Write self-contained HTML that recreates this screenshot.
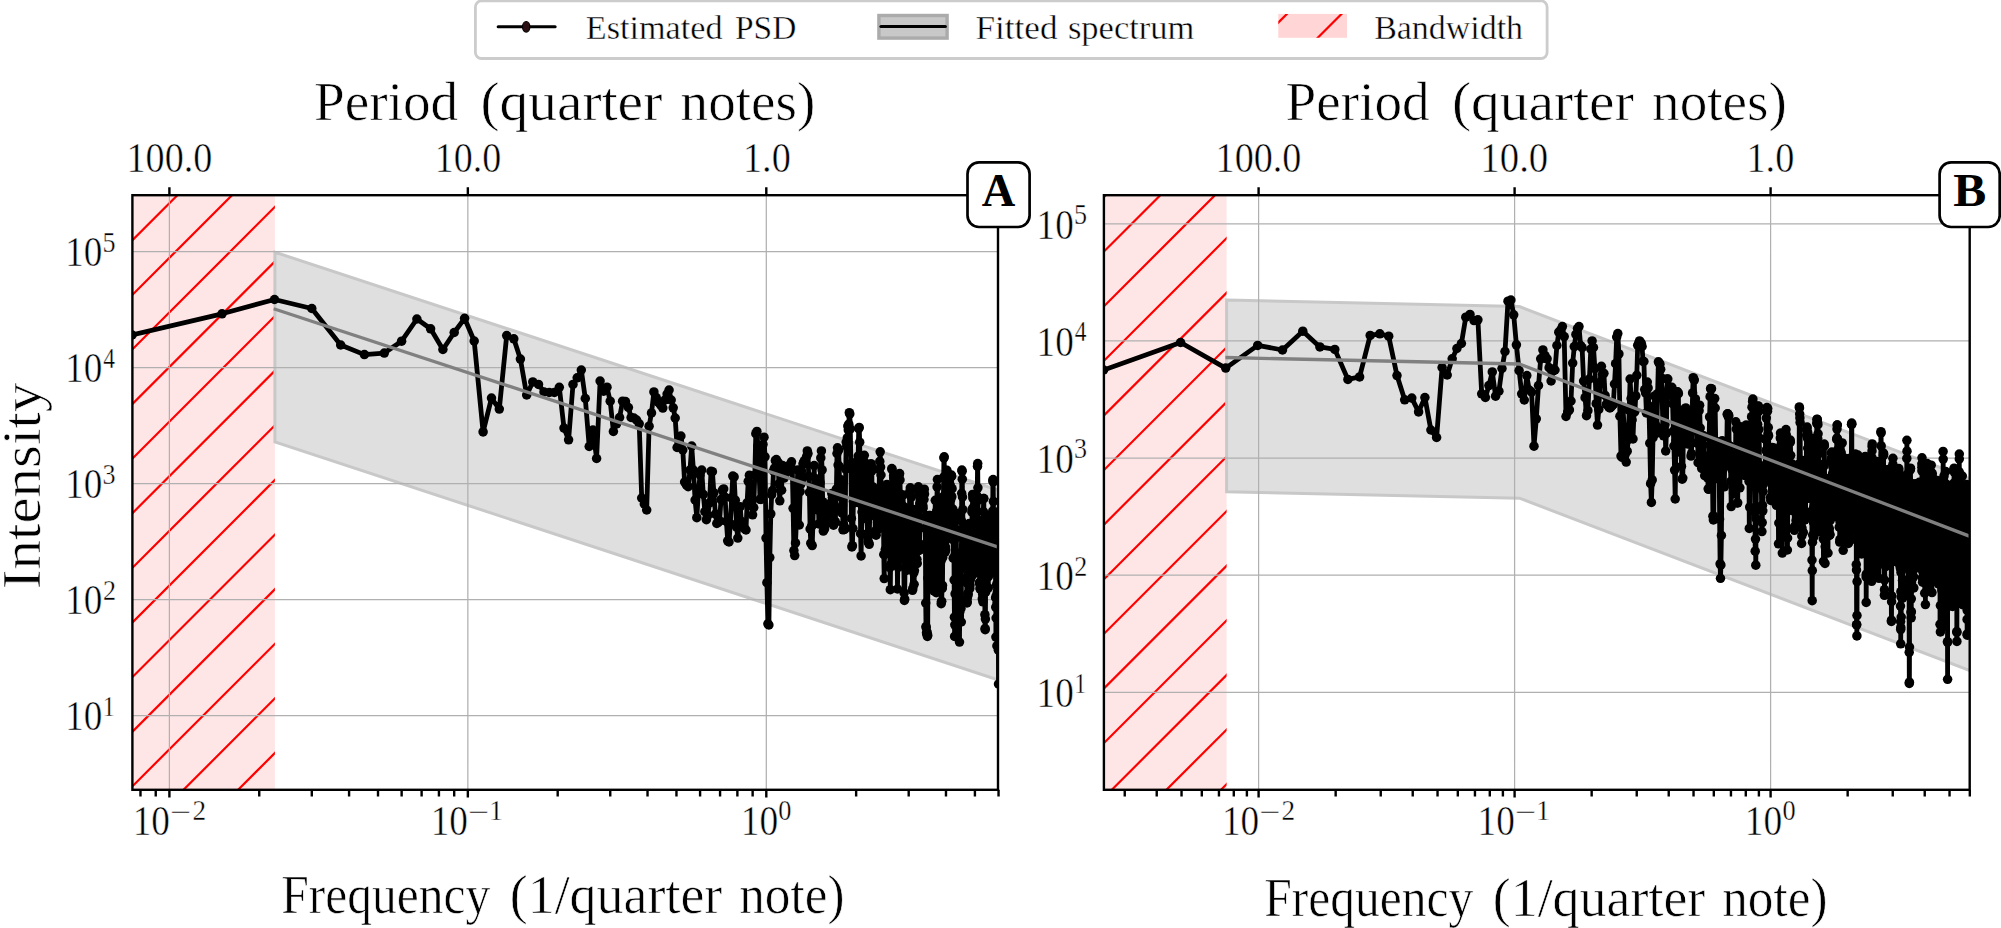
<!DOCTYPE html>
<html lang="en"><head><meta charset="utf-8"><title>Estimated PSD and fitted spectrum</title>
<style>html,body{margin:0;padding:0;background:#fff;overflow:hidden}svg{display:block}text{font-family:'Liberation Serif', serif;fill:#000;stroke:#fff;stroke-width:0;paint-order:fill stroke}</style></head><body>
<svg width="2001" height="928" viewBox="0 0 2001 928">
<rect width="2001" height="928" fill="#fff"/>
<defs>
<marker id="dot" markerUnits="userSpaceOnUse" markerWidth="12" markerHeight="12" refX="6" refY="6" viewBox="0 0 12 12"><circle cx="6" cy="6" r="4.75" fill="#000"/></marker>
<clipPath id="axL"><rect x="132.40" y="195.20" width="865.60" height="594.60"/></clipPath>
<clipPath id="pkL"><rect x="132.40" y="195.20" width="142.50" height="594.60"/></clipPath>
<clipPath id="axR"><rect x="1103.90" y="195.20" width="865.80" height="594.60"/></clipPath>
<clipPath id="pkR"><rect x="1103.90" y="195.20" width="122.70" height="594.60"/></clipPath>
<clipPath id="lgp"><rect x="1278.3" y="13.9" width="68.7" height="23.9"/></clipPath>
</defs>
<g clip-path="url(#axL)">
<rect x="132.40" y="195.20" width="142.50" height="594.60" fill="#ffe6e6"/>
<path clip-path="url(#pkL)" d="M-476.8 794.8L127.8 190.2M-422.2 794.8L182.4 190.2M-367.6 794.8L237.0 190.2M-313.0 794.8L291.6 190.2M-258.4 794.8L346.2 190.2M-203.8 794.8L400.8 190.2M-149.2 794.8L455.4 190.2M-94.6 794.8L510.0 190.2M-39.9 794.8L564.7 190.2M14.7 794.8L619.3 190.2M69.3 794.8L673.9 190.2M123.9 794.8L728.5 190.2M178.5 794.8L783.1 190.2M233.1 794.8L837.7 190.2M287.7 794.8L892.3 190.2" stroke="#f00" stroke-width="2.2" fill="none"/>
<polygon points="274.9,252.2 1001.0,491.1 1001.0,680.8 274.9,441.9" fill="#808080" fill-opacity="0.25"/>
<polygon points="274.9,252.2 1001.0,491.1 1001.0,680.8 274.9,441.9" fill="none" stroke="#c8c8c8" stroke-width="3.0" stroke-linejoin="miter"/>
<path d="M169.40 195.2V789.8M467.85 195.2V789.8M766.30 195.2V789.8M132.4 715.52H998.0M132.4 599.54H998.0M132.4 483.56H998.0M132.4 367.58H998.0M132.4 251.60H998.0" stroke="#b0b0b0" stroke-width="1.25" fill="none"/>
<path d="M132.1 335.0L222.0 313.8L274.5 299.5L311.8 308.5L340.7 345.0L364.4 354.6L384.3 353.1L401.6 341.2L416.9 319.0L430.6 328.8L442.9 349.5L454.2 332.5L464.6 318.3L474.2 341.0L483.1 431.9L491.5 398.1L499.3 409.1L506.7 335.6L513.8 338.8L520.4 359.1L526.7 395.0L532.8 381.9L538.5 384.4L544.0 391.9L549.3 392.5L554.4 392.5L559.3 387.3L564.0 428.1L568.6 439.8L573.0 384.4L577.2 377.8L581.3 370.0L585.3 398.5L589.2 446.5L592.9 430.0L596.6 458.5L600.1 381.0L603.6 391.2L607.0 387.2L610.2 401.2L613.4 431.5L616.6 423.8L619.6 417.5L622.6 401.2L625.5 401.5L628.4 407.5L631.1 417.5L633.9 418.0L636.6 420.0L639.2 423.8L641.7 498.0L644.3 504.0L646.7 510.0L649.1 426.2L651.5 412.9L653.9 391.9L656.2 397.5L658.4 402.5L660.6 405.0L662.8 408.1L664.9 400.0L667.1 394.0L669.1 390.0L671.2 400.0L673.2 407.8L675.2 418.0L677.1 447.5L679.0 440.0L680.9 436.0L682.8 450.0L684.6 482.0L686.4 485.0L688.2 486.7L690.0 470.0L691.7 446.0L693.4 470.0L695.1 500.0L696.8 517.7L698.5 490.0L700.1 475.0L701.7 470.0L703.3 494.4L704.9 511.7L706.4 519.7L707.9 515.3L709.5 502.9L711.0 471.3L712.4 471.7L713.9 492.8L715.4 514.0L716.8 523.5L718.2 522.3L719.6 520.8L721.0 499.6L722.4 490.1L723.7 488.9L725.1 497.2L726.4 521.3L727.7 540.8L729.0 542.0L730.3 523.7L731.6 497.8L732.8 476.1L734.1 476.9L735.3 500.2L736.6 527.2L737.8 538.1L739.0 523.6L740.2 506.7L741.4 521.6L742.5 525.5L743.7 527.6L744.9 528.8L746.0 530.0L747.1 502.8L748.2 481.3L749.4 475.2L750.5 484.9L751.6 505.8L752.6 514.8L753.7 507.6L754.8 475.2L755.8 433.7L756.9 431.4L757.9 445.9L759.0 467.1L760.0 499.3L761.0 499.4L762.0 481.6L763.0 444.4L764.0 437.2L765.0 456.8L766.0 538.1L766.9 582.7L767.9 623.8L768.9 625.0L769.8 557.6L770.8 513.8L771.7 494.7L772.6 490.6L773.5 470.9L774.5 468.1L775.4 460.7L776.3 459.5L777.2 463.5L778.1 462.3L778.9 483.8L779.8 500.8L780.7 470.8L781.6 490.2L782.4 465.4L783.3 469.8L784.1 478.1L785.0 473.5L785.8 473.3L786.7 466.9L787.5 467.1L788.3 465.9L789.1 468.2L789.9 468.0L790.7 464.9L791.5 461.8L792.3 469.5L793.1 508.3L793.9 550.6L794.7 555.6L795.5 542.9L796.3 524.3L797.0 487.8L797.8 469.9L798.5 485.0L799.3 525.0L800.1 491.6L800.8 484.3L801.5 471.0L802.3 478.4L803.0 463.8L803.7 462.1L804.5 460.6L805.2 463.7L805.9 463.4L806.6 456.6L807.3 450.9L808.0 453.6L808.7 476.2L809.4 492.3L810.1 529.0L810.8 543.2L811.5 526.4L812.2 545.6L812.9 524.7L813.6 497.4L814.2 465.6L814.9 502.7L815.6 478.7L816.2 497.7L816.9 498.0L817.6 509.8L818.2 496.0L818.9 523.9L819.5 504.5L820.1 482.7L820.8 457.9L821.4 450.9L822.1 469.9L822.7 501.7L823.3 531.1L823.9 529.9L824.6 528.7L825.2 508.3L825.8 506.9L826.4 523.3L827.0 520.9L827.6 513.3L828.2 507.4L828.8 504.4L829.4 509.9L830.0 507.9L830.6 513.8L831.2 502.4L831.8 493.6L832.4 497.4L833.0 505.0L833.5 525.2L834.1 524.0L834.7 522.8L835.3 521.6L835.8 507.9L836.4 489.1L837.0 453.5L837.5 447.8L838.1 465.0L838.6 450.2L839.2 466.3L839.8 496.4L840.3 483.4L840.9 479.7L841.4 507.2L841.9 512.9L842.5 505.7L843.0 529.8L843.6 524.5L844.1 528.5L844.6 529.5L845.2 528.1L845.7 469.1L846.2 442.1L846.7 446.3L847.3 437.9L847.8 426.1L848.3 430.1L848.8 424.2L849.3 412.7L849.8 413.9L850.3 428.9L850.9 463.5L851.4 518.4L851.9 546.9L852.4 545.7L852.9 528.5L853.4 501.6L853.9 502.8L854.3 501.0L854.8 487.6L855.3 465.7L855.8 478.9L856.3 477.2L856.8 461.4L857.3 477.4L857.8 502.5L858.2 456.1L858.7 428.6L859.2 427.4L859.7 442.2L860.1 477.2L860.6 533.7L861.1 555.9L861.5 533.7L862.0 512.1L862.5 486.4L862.9 463.3L863.4 463.9L863.8 462.2L864.3 455.3L864.8 462.3L865.2 475.6L865.7 477.5L866.1 490.4L866.6 519.0L867.0 518.0L867.5 533.6L867.9 537.4L868.3 541.9L868.8 543.1L869.2 544.3L869.7 516.0L870.1 467.8L870.5 468.9L871.0 463.7L871.4 466.1L871.8 470.9L872.3 511.8L872.7 500.4L873.1 487.1L873.6 490.4L874.0 494.2L874.4 489.4L874.8 501.0L875.2 531.0L875.7 534.0L876.1 535.2L876.5 516.9L876.9 518.1L877.3 507.6L877.7 522.3L878.1 529.2L878.6 516.6L879.0 505.4L879.4 469.6L879.8 461.4L880.2 451.8L880.6 467.0L881.0 475.0L881.4 512.2L881.8 487.6L882.2 487.0L882.6 494.5L883.0 511.1L883.4 512.3L883.8 554.5L884.2 578.6L884.5 554.7L884.9 528.2L885.3 549.6L885.7 521.5L886.1 507.9L886.5 516.0L886.9 484.4L887.3 494.2L887.6 494.6L888.0 510.0L888.4 510.3L888.8 550.8L889.1 510.5L889.5 530.3L889.9 567.7L890.3 589.7L890.6 564.7L891.0 544.6L891.4 516.7L891.8 468.5L892.1 469.7L892.5 487.3L892.9 522.9L893.2 553.2L893.6 475.9L894.0 478.2L894.3 479.0L894.7 479.8L895.0 484.2L895.4 502.6L895.8 511.7L896.1 520.3L896.5 517.9L896.8 557.3L897.2 558.7L897.5 589.0L897.9 561.3L898.2 567.4L898.6 545.1L898.9 512.8L899.3 474.7L899.6 473.5L900.0 479.9L900.3 494.1L900.7 523.9L901.0 554.0L901.4 518.2L901.7 523.1L902.0 512.7L902.4 514.7L902.7 510.8L903.1 495.0L903.4 506.4L903.7 554.9L904.1 592.9L904.4 600.4L904.7 599.2L905.1 558.8L905.4 532.9L905.7 517.7L906.1 547.1L906.4 570.4L906.7 567.3L907.1 563.4L907.4 557.7L907.7 555.9L908.0 539.7L908.4 529.5L908.7 514.6L909.0 516.3L909.3 513.9L909.7 491.9L910.0 492.5L910.3 487.8L910.6 489.0L910.9 490.2L911.3 497.2L911.6 509.7L911.9 529.2L912.2 557.2L912.5 590.3L912.8 588.4L913.2 564.0L913.5 560.7L913.8 572.8L914.1 584.3L914.4 570.5L914.7 521.0L915.0 520.0L915.3 524.4L915.6 509.5L915.9 517.5L916.2 560.5L916.6 563.3L916.9 559.3L917.2 563.4L917.5 551.1L917.8 527.2L918.1 488.3L918.4 486.8L918.7 488.3L919.0 493.6L919.3 508.0L919.6 550.1L919.9 503.5L920.2 503.5L920.5 508.1L920.8 503.2L921.1 498.9L921.3 495.0L921.6 494.6L921.9 494.3L922.2 495.8L922.5 496.3L922.8 505.2L923.1 507.9L923.4 496.4L923.7 491.6L924.0 499.5L924.3 489.2L924.5 494.1L924.8 517.6L925.1 528.3L925.4 543.8L925.7 603.0L926.0 626.5L926.2 627.7L926.5 632.8L926.8 634.0L927.1 632.1L927.4 636.4L927.7 635.2L927.9 578.1L928.2 547.9L928.5 525.4L928.8 520.5L929.0 515.6L929.3 532.8L929.6 517.4L929.9 519.6L930.2 515.5L930.4 522.8L930.7 520.6L931.0 533.5L931.2 565.5L931.5 568.5L931.8 569.7L932.1 570.0L932.3 585.0L932.6 545.6L932.9 555.7L933.1 557.5L933.4 562.9L933.7 572.3L933.9 590.9L934.2 562.1L934.5 526.8L934.7 520.7L935.0 514.7L935.3 500.3L935.5 526.3L935.8 581.6L936.1 591.5L936.3 592.7L936.6 550.2L936.8 510.8L937.1 486.9L937.4 479.5L937.6 501.6L937.9 531.3L938.1 516.6L938.4 501.4L938.7 517.8L938.9 526.9L939.2 508.0L939.4 521.9L939.7 537.9L939.9 520.1L940.2 518.9L940.4 541.5L940.7 537.4L940.9 561.3L941.2 603.7L941.5 601.5L941.7 601.3L942.0 588.4L942.2 588.2L942.5 585.4L942.7 557.6L943.0 536.0L943.2 523.4L943.4 496.5L943.7 477.0L943.9 458.0L944.2 456.8L944.4 478.1L944.7 505.8L944.9 530.4L945.2 552.1L945.4 546.8L945.7 550.0L945.9 540.2L946.1 505.2L946.4 496.6L946.6 470.6L946.9 470.3L947.1 477.4L947.4 498.6L947.6 499.4L947.8 532.2L948.1 536.5L948.3 531.9L948.6 537.8L948.8 514.5L949.0 525.5L949.3 498.7L949.5 503.2L949.7 477.1L950.0 495.1L950.2 485.2L950.4 517.0L950.7 499.8L950.9 521.1L951.1 476.7L951.4 475.1L951.6 476.3L951.8 496.7L952.1 488.7L952.3 511.1L952.5 513.7L952.8 509.0L953.0 511.1L953.2 558.2L953.5 527.9L953.7 535.0L953.9 540.3L954.1 580.0L954.4 617.2L954.6 636.4L954.8 624.8L955.1 593.9L955.3 554.6L955.5 516.6L955.7 517.8L956.0 513.6L956.2 529.4L956.4 537.4L956.6 576.2L956.9 592.4L957.1 607.8L957.3 605.8L957.5 607.0L957.7 588.9L958.0 586.0L958.2 573.0L958.4 562.0L958.6 565.9L958.9 575.8L959.1 618.7L959.3 616.1L959.5 642.1L959.7 612.2L959.9 578.8L960.2 553.0L960.4 569.7L960.6 563.9L960.8 579.9L961.0 608.5L961.3 622.0L961.5 520.8L961.7 493.3L961.9 470.1L962.1 471.3L962.3 479.2L962.5 497.0L962.8 509.6L963.0 530.5L963.2 529.8L963.4 531.4L963.6 546.9L963.8 537.1L964.0 535.3L964.2 545.1L964.5 532.1L964.7 540.4L964.9 549.5L965.1 551.3L965.3 555.1L965.5 556.4L965.7 565.9L965.9 556.1L966.1 541.8L966.3 546.8L966.5 577.9L966.7 582.6L967.0 603.0L967.2 601.8L967.4 597.7L967.6 582.8L967.8 593.3L968.0 575.4L968.2 594.7L968.4 561.8L968.6 534.9L968.8 528.2L969.0 525.2L969.2 523.6L969.4 540.3L969.6 565.2L969.8 588.6L970.0 585.1L970.2 580.3L970.4 575.0L970.6 546.7L970.8 540.1L971.0 545.2L971.2 551.5L971.4 547.7L971.6 576.5L971.8 573.7L972.0 512.2L972.2 509.1L972.4 511.2L972.6 494.4L972.8 498.1L973.0 537.5L973.2 550.7L973.4 507.5L973.6 533.3L973.8 523.9L974.0 522.0L974.2 525.2L974.4 573.5L974.6 544.6L974.8 539.1L975.0 547.9L975.2 529.7L975.4 536.9L975.6 533.7L975.7 541.8L975.9 541.8L976.1 545.0L976.3 539.5L976.5 559.5L976.7 556.2L976.9 548.3L977.1 557.9L977.3 496.4L977.5 466.4L977.7 463.5L977.9 487.8L978.0 500.4L978.2 534.9L978.4 545.0L978.6 528.3L978.8 524.7L979.0 533.3L979.2 563.4L979.4 568.7L979.6 582.4L979.7 583.7L979.9 582.9L980.1 588.1L980.3 589.3L980.5 588.1L980.7 586.9L980.9 585.7L981.0 584.5L981.2 583.3L981.4 547.4L981.6 550.2L981.8 528.9L982.0 541.3L982.2 546.2L982.3 598.9L982.5 582.7L982.7 594.4L982.9 601.8L983.1 539.3L983.3 529.4L983.4 511.7L983.6 498.6L983.8 498.5L984.0 518.9L984.2 525.2L984.3 551.6L984.5 569.6L984.7 571.4L984.9 614.7L985.1 628.5L985.2 629.7L985.4 619.1L985.6 592.2L985.8 566.2L986.0 536.6L986.1 544.4L986.3 560.2L986.5 576.9L986.7 562.8L986.8 531.3L987.0 531.1L987.2 529.1L987.4 518.7L987.6 525.8L987.7 562.4L987.9 568.9L988.1 575.4L988.3 587.9L988.4 576.6L988.6 551.7L988.8 542.1L989.0 538.1L989.1 534.5L989.3 539.5L989.5 558.9L989.7 564.4L989.8 554.7L990.0 569.5L990.2 553.4L990.3 558.0L990.5 551.4L990.7 566.2L990.9 548.1L991.0 527.5L991.2 526.4L991.4 539.7L991.5 514.6L991.7 519.0L991.9 548.3L992.1 547.1L992.2 526.4L992.4 556.7L992.6 546.2L992.7 511.2L992.9 480.7L993.1 479.5L993.2 482.0L993.4 501.4L993.6 525.8L993.8 543.9L993.9 532.0L994.1 529.0L994.3 533.0L994.4 543.6L994.6 544.2L994.8 548.8L994.9 563.9L995.1 551.8L995.3 539.0L995.4 561.0L995.6 597.7L995.8 607.3L995.9 637.1L996.1 618.0L996.3 606.4L996.4 573.7L996.6 584.7L996.7 594.8L996.9 645.9L997.1 602.5L997.2 598.5L997.4 591.8L997.6 543.6L997.7 533.2L997.9 512.0L998.1 537.7L998.2 597.1L998.4 650.2L998.5 684.0" stroke="#000" stroke-width="4.8" fill="none" stroke-linejoin="round" stroke-linecap="butt" marker-start="url(#dot)" marker-mid="url(#dot)" marker-end="url(#dot)"/>
<polyline points="273.7,308.7 1001.0,547.9" stroke="#808080" stroke-width="3.3" fill="none" stroke-linejoin="round"/>
</g>
<path d="M140.48 789.8V796.6M155.74 789.8V796.6M259.24 789.8V796.6M311.80 789.8V796.6M349.08 789.8V796.6M378.01 789.8V796.6M401.64 789.8V796.6M421.62 789.8V796.6M438.93 789.8V796.6M454.19 789.8V796.6M557.69 789.8V796.6M610.25 789.8V796.6M647.53 789.8V796.6M676.46 789.8V796.6M700.09 789.8V796.6M720.07 789.8V796.6M737.38 789.8V796.6M752.64 789.8V796.6M856.14 789.8V796.6M908.70 789.8V796.6M945.98 789.8V796.6M974.91 789.8V796.6M998.54 789.8V796.6" stroke="#000" stroke-width="2.4" fill="none"/>
<path d="M169.40 789.8V797.6M169.40 195.2V187.3M467.85 789.8V797.6M467.85 195.2V187.3M766.30 789.8V797.6M766.30 195.2V187.3" stroke="#000" stroke-width="2.4" fill="none"/>
<rect x="132.40" y="195.20" width="865.60" height="594.60" fill="none" stroke="#000" stroke-width="2.4"/>
<g clip-path="url(#axR)">
<rect x="1103.90" y="195.20" width="122.70" height="594.60" fill="#ffe6e6"/>
<path clip-path="url(#pkR)" d="M451.5 794.8L1056.1 190.2M506.1 794.8L1110.7 190.2M560.7 794.8L1165.3 190.2M615.4 794.8L1220.0 190.2M670.0 794.8L1274.6 190.2M724.6 794.8L1329.2 190.2M779.2 794.8L1383.8 190.2M833.8 794.8L1438.4 190.2M888.4 794.8L1493.0 190.2M943.0 794.8L1547.6 190.2M997.6 794.8L1602.2 190.2M1052.2 794.8L1656.8 190.2M1106.8 794.8L1711.4 190.2M1161.4 794.8L1766.0 190.2M1216.0 794.8L1820.6 190.2M1270.6 794.8L1875.2 190.2" stroke="#f00" stroke-width="2.2" fill="none"/>
<polygon points="1226.6,300.1 1519.5,306.6 1972.7,480.0 1972.7,671.6 1519.5,498.2 1226.6,491.7" fill="#808080" fill-opacity="0.25"/>
<polygon points="1226.6,300.1 1519.5,306.6 1972.7,480.0 1972.7,671.6 1519.5,498.2 1226.6,491.7" fill="none" stroke="#c8c8c8" stroke-width="3.0" stroke-linejoin="miter"/>
<path d="M1258.60 195.2V789.8M1514.60 195.2V789.8M1770.60 195.2V789.8M1103.9 692.28H1969.7M1103.9 575.16H1969.7M1103.9 458.04H1969.7M1103.9 340.92H1969.7M1103.9 223.80H1969.7" stroke="#b0b0b0" stroke-width="1.25" fill="none"/>
<path d="M1103.6 370.0L1180.6 342.5L1225.7 368.1L1257.7 345.4L1282.5 350.0L1302.8 331.2L1319.9 346.9L1334.8 349.4L1347.9 379.4L1359.6 376.9L1370.2 335.4L1379.8 333.8L1388.7 336.2L1397.0 375.6L1404.7 399.8L1411.8 398.1L1418.6 411.9L1424.9 397.5L1430.9 430.0L1436.6 437.5L1442.1 367.5L1447.2 375.0L1452.2 358.8L1456.9 348.5L1461.4 343.5L1465.8 317.2L1470.0 314.4L1474.0 320.6L1477.9 319.8L1481.7 393.8L1485.4 397.5L1488.9 385.6L1492.3 371.9L1495.6 396.2L1498.9 391.2L1502.0 368.5L1505.0 351.5L1508.0 301.2L1510.9 300.0L1513.7 314.8L1516.4 344.8L1519.1 370.6L1521.7 393.8L1524.3 400.0L1526.8 375.6L1529.2 390.0L1531.6 392.0L1534.0 446.2L1536.3 418.8L1538.5 385.5L1540.7 358.8L1542.9 349.9L1545.0 355.5L1547.1 358.8L1549.1 367.7L1551.1 381.0L1553.1 371.0L1555.0 370.0L1556.9 345.5L1558.8 332.2L1560.6 330.0L1562.4 326.6L1564.2 336.6L1566.0 416.5L1567.7 412.0L1569.4 409.9L1571.0 401.0L1572.7 363.0L1574.3 346.6L1575.9 334.4L1577.5 328.5L1579.0 326.6L1580.6 345.5L1582.1 347.7L1583.6 381.0L1585.1 397.7L1586.5 415.7L1587.9 410.7L1589.4 379.0L1590.8 349.0L1592.1 340.9L1593.5 347.5L1594.9 368.6L1596.2 403.7L1597.5 425.1L1598.8 409.4L1600.1 382.3L1601.4 366.3L1602.6 374.3L1603.9 373.3L1605.1 395.4L1606.3 404.4L1607.5 403.4L1608.7 406.8L1609.9 408.0L1611.0 406.8L1612.2 405.6L1613.3 404.4L1614.5 384.0L1615.6 363.7L1616.7 337.0L1617.8 333.5L1618.9 353.9L1619.9 416.2L1621.0 456.1L1622.1 457.3L1623.1 409.5L1624.1 427.0L1625.2 454.3L1626.2 462.1L1627.2 451.2L1628.2 439.7L1629.2 410.1L1630.1 379.0L1631.1 398.6L1632.1 420.0L1633.0 438.9L1634.0 412.4L1634.9 411.3L1635.8 395.9L1636.8 375.3L1637.7 345.3L1638.6 343.7L1639.5 340.9L1640.4 342.1L1641.3 343.3L1642.1 346.5L1643.0 361.3L1643.9 361.5L1644.7 389.5L1645.6 392.9L1646.4 412.9L1647.3 382.1L1648.1 387.9L1648.9 405.9L1649.8 443.2L1650.6 483.7L1651.4 502.4L1652.2 479.9L1653.0 437.7L1653.8 412.2L1654.6 395.9L1655.3 424.4L1656.1 433.4L1656.9 427.4L1657.6 393.7L1658.4 361.8L1659.2 363.0L1659.9 364.2L1660.7 369.3L1661.4 377.8L1662.1 395.4L1662.9 428.2L1663.6 435.8L1664.3 431.9L1665.0 424.7L1665.7 451.0L1666.4 433.3L1667.1 378.9L1667.8 379.0L1668.5 389.8L1669.2 387.1L1669.9 387.2L1670.6 395.5L1671.2 392.0L1671.9 387.3L1672.6 403.7L1673.3 431.2L1673.9 446.0L1674.6 470.1L1675.2 499.0L1675.9 440.9L1676.5 412.7L1677.2 391.8L1677.8 392.0L1678.4 393.7L1679.1 452.1L1679.7 411.1L1680.3 413.4L1680.9 435.7L1681.5 466.3L1682.2 479.2L1682.8 478.0L1683.4 431.9L1684.0 420.3L1684.6 409.0L1685.2 409.5L1685.8 407.9L1686.3 439.1L1686.9 440.4L1687.5 443.9L1688.1 414.0L1688.7 413.8L1689.2 424.4L1689.8 428.5L1690.4 443.2L1691.0 456.1L1691.5 453.7L1692.1 431.1L1692.6 392.9L1693.2 377.7L1693.7 378.9L1694.3 380.1L1694.8 402.0L1695.4 398.9L1695.9 404.0L1696.5 412.6L1697.0 443.2L1697.5 429.7L1698.1 462.7L1698.6 441.0L1699.1 410.7L1699.6 405.2L1700.2 428.1L1700.7 434.7L1701.2 462.7L1701.7 468.5L1702.2 467.3L1702.7 454.3L1703.2 444.8L1703.7 435.8L1704.2 462.5L1704.7 475.7L1705.2 457.5L1705.7 458.4L1706.2 473.6L1706.7 465.7L1707.2 464.5L1707.7 477.8L1708.2 488.8L1708.7 489.3L1709.1 436.8L1709.6 416.9L1710.1 396.7L1710.6 388.6L1711.0 389.3L1711.5 388.7L1712.0 416.6L1712.4 472.5L1712.9 516.2L1713.4 520.0L1713.8 516.2L1714.3 449.9L1714.7 398.6L1715.2 408.0L1715.7 440.9L1716.1 466.0L1716.6 478.4L1717.0 462.4L1717.4 454.4L1717.9 462.2L1718.3 446.8L1718.8 442.7L1719.2 467.4L1719.6 519.0L1720.1 563.8L1720.5 578.3L1720.9 565.0L1721.4 535.4L1721.8 486.5L1722.2 440.7L1722.7 468.8L1723.1 464.8L1723.5 457.4L1723.9 450.2L1724.3 486.8L1724.8 460.1L1725.2 453.8L1725.6 454.4L1726.0 465.8L1726.4 461.2L1726.8 448.6L1727.2 414.3L1727.6 413.8L1728.0 414.0L1728.4 416.9L1728.8 415.7L1729.2 448.2L1729.6 446.0L1730.0 446.2L1730.4 462.0L1730.8 481.4L1731.2 506.6L1731.6 465.6L1732.0 469.5L1732.4 469.3L1732.8 459.1L1733.2 454.8L1733.6 493.5L1733.9 491.9L1734.3 493.8L1734.7 484.9L1735.1 488.3L1735.5 460.3L1735.8 421.8L1736.2 429.0L1736.6 458.4L1737.0 487.4L1737.3 503.0L1737.7 502.8L1738.1 469.2L1738.5 472.1L1738.8 464.7L1739.2 447.8L1739.6 463.0L1739.9 487.8L1740.3 455.6L1740.6 426.8L1741.0 439.2L1741.4 440.2L1741.7 428.3L1742.1 448.1L1742.4 472.1L1742.8 455.9L1743.1 447.9L1743.5 451.0L1743.8 446.9L1744.2 468.0L1744.5 475.5L1744.9 450.9L1745.2 447.4L1745.6 445.9L1745.9 435.1L1746.3 424.9L1746.6 443.5L1747.0 456.8L1747.3 457.9L1747.6 447.9L1748.0 467.0L1748.3 469.8L1748.6 473.2L1749.0 481.5L1749.3 528.4L1749.7 507.1L1750.0 462.8L1750.3 461.4L1750.6 431.0L1751.0 427.0L1751.3 429.2L1751.6 416.7L1752.0 407.2L1752.3 418.0L1752.6 401.5L1752.9 399.0L1753.3 428.4L1753.6 451.1L1753.9 470.6L1754.2 484.0L1754.5 482.0L1754.9 512.0L1755.2 551.2L1755.5 539.1L1755.8 565.2L1756.1 518.6L1756.4 485.1L1756.7 447.5L1757.1 431.9L1757.4 407.9L1757.7 424.3L1758.0 406.2L1758.3 405.9L1758.6 411.7L1758.9 429.5L1759.2 437.8L1759.5 464.9L1759.8 466.2L1760.1 472.3L1760.4 471.4L1760.7 475.6L1761.0 488.5L1761.3 483.9L1761.6 505.8L1761.9 531.6L1762.2 522.6L1762.5 505.4L1762.8 510.8L1763.1 491.5L1763.4 484.5L1763.7 481.3L1764.0 480.5L1764.3 480.4L1764.6 466.7L1764.9 474.4L1765.2 470.1L1765.5 439.1L1765.7 439.4L1766.0 450.6L1766.3 418.1L1766.6 411.1L1766.9 407.6L1767.2 409.3L1767.5 411.2L1767.7 408.5L1768.0 434.0L1768.3 427.5L1768.6 435.8L1768.9 463.5L1769.1 447.8L1769.4 466.1L1769.7 476.0L1770.0 470.8L1770.3 474.9L1770.5 497.3L1770.8 500.5L1771.1 470.4L1771.4 475.7L1771.6 449.9L1771.9 462.5L1772.2 447.6L1772.4 466.8L1772.7 450.3L1773.0 469.5L1773.3 468.5L1773.5 452.6L1773.8 448.0L1774.1 461.3L1774.3 457.5L1774.6 456.8L1774.9 497.1L1775.1 500.0L1775.4 485.4L1775.7 502.5L1775.9 503.1L1776.2 500.8L1776.4 505.3L1776.7 483.8L1777.0 471.5L1777.2 452.6L1777.5 454.4L1777.7 460.9L1778.0 486.0L1778.3 503.9L1778.5 543.8L1778.8 523.0L1779.0 483.9L1779.3 485.1L1779.5 466.2L1779.8 454.4L1780.0 452.6L1780.3 438.1L1780.5 433.0L1780.8 438.6L1781.1 444.6L1781.3 457.4L1781.6 517.5L1781.8 523.3L1782.1 527.2L1782.3 553.1L1782.5 534.3L1782.8 504.0L1783.0 502.6L1783.3 502.0L1783.5 476.9L1783.8 483.3L1784.0 465.9L1784.3 460.9L1784.5 460.5L1784.8 464.3L1785.0 435.9L1785.2 446.1L1785.5 446.5L1785.7 440.3L1786.0 429.6L1786.2 434.5L1786.4 440.9L1786.7 451.6L1786.9 461.8L1787.2 493.3L1787.4 550.0L1787.6 538.0L1787.9 474.3L1788.1 476.1L1788.3 475.8L1788.6 456.3L1788.8 461.9L1789.0 499.7L1789.3 488.1L1789.5 472.3L1789.7 469.8L1790.0 467.7L1790.2 440.0L1790.4 442.1L1790.7 455.3L1790.9 479.0L1791.1 474.8L1791.4 498.9L1791.6 510.5L1791.8 508.0L1792.0 480.1L1792.3 464.0L1792.5 485.0L1792.7 485.3L1792.9 472.8L1793.2 473.4L1793.4 503.1L1793.6 492.6L1793.8 490.9L1794.1 493.7L1794.3 530.3L1794.5 527.4L1794.7 526.3L1795.0 470.8L1795.2 484.1L1795.4 484.4L1795.6 483.1L1795.8 469.9L1796.1 520.5L1796.3 512.9L1796.5 502.3L1796.7 473.0L1796.9 495.1L1797.1 488.5L1797.4 483.1L1797.6 481.1L1797.8 506.6L1798.0 482.0L1798.2 489.0L1798.4 488.1L1798.7 495.4L1798.9 464.0L1799.1 474.0L1799.3 406.9L1799.5 408.1L1799.7 414.1L1799.9 418.0L1800.1 422.4L1800.4 467.9L1800.6 463.6L1800.8 465.1L1801.0 502.7L1801.2 498.5L1801.4 511.1L1801.6 543.5L1801.8 536.0L1802.0 528.1L1802.2 464.9L1802.4 463.0L1802.7 460.4L1802.9 460.8L1803.1 463.6L1803.3 532.4L1803.5 494.8L1803.7 470.9L1803.9 472.3L1804.1 468.6L1804.3 461.9L1804.5 479.4L1804.7 516.5L1804.9 519.8L1805.1 495.8L1805.3 511.0L1805.5 518.5L1805.7 492.7L1805.9 475.8L1806.1 492.4L1806.3 470.7L1806.5 429.8L1806.7 435.4L1806.9 428.4L1807.1 427.1L1807.3 434.9L1807.5 438.3L1807.7 432.3L1807.9 448.3L1808.1 448.0L1808.3 448.2L1808.5 496.9L1808.7 498.3L1808.9 493.5L1809.1 491.2L1809.3 494.8L1809.5 496.7L1809.7 483.6L1809.9 471.0L1810.0 477.2L1810.2 476.6L1810.4 472.2L1810.6 495.6L1810.8 455.8L1811.0 456.8L1811.2 437.9L1811.4 443.1L1811.6 453.3L1811.8 515.9L1812.0 560.0L1812.2 600.7L1812.3 570.6L1812.5 542.2L1812.7 535.0L1812.9 492.1L1813.1 490.9L1813.3 510.7L1813.5 522.4L1813.7 507.7L1813.8 537.0L1814.0 510.1L1814.2 510.9L1814.4 511.7L1814.6 482.5L1814.8 479.8L1815.0 476.6L1815.1 468.3L1815.3 447.6L1815.5 444.3L1815.7 448.2L1815.9 463.4L1816.1 470.7L1816.3 459.7L1816.4 478.3L1816.6 451.2L1816.8 423.5L1817.0 419.2L1817.2 421.9L1817.3 419.4L1817.5 422.2L1817.7 438.3L1817.9 424.7L1818.1 433.8L1818.2 454.1L1818.4 452.8L1818.6 469.7L1818.8 526.9L1819.0 531.7L1819.1 499.8L1819.3 523.0L1819.5 515.0L1819.7 515.2L1819.9 502.5L1820.0 494.6L1820.2 484.8L1820.4 466.5L1820.6 464.6L1820.7 468.9L1820.9 491.7L1821.1 499.1L1821.3 493.1L1821.4 487.4L1821.6 493.4L1821.8 487.5L1822.0 483.2L1822.1 523.9L1822.3 517.3L1822.5 486.1L1822.6 483.9L1822.8 489.2L1823.0 482.0L1823.2 496.7L1823.3 539.0L1823.5 561.4L1823.7 502.6L1823.8 482.0L1824.0 465.9L1824.2 444.1L1824.4 446.0L1824.5 464.1L1824.7 486.0L1824.9 513.7L1825.0 563.4L1825.2 546.8L1825.4 528.6L1825.5 489.2L1825.7 484.5L1825.9 495.8L1826.0 478.6L1826.2 489.8L1826.4 481.8L1826.5 480.7L1826.7 484.1L1826.9 508.4L1827.0 507.3L1827.2 523.6L1827.4 533.6L1827.5 533.1L1827.7 515.4L1827.9 512.2L1828.0 553.0L1828.2 511.7L1828.4 502.1L1828.5 496.2L1828.7 494.7L1828.9 499.2L1829.0 530.8L1829.2 502.9L1829.3 528.5L1829.5 535.5L1829.7 534.7L1829.8 517.7L1830.0 534.5L1830.2 520.3L1830.3 502.3L1830.5 493.8L1830.6 484.8L1830.8 488.2L1831.0 495.6L1831.1 505.3L1831.3 453.0L1831.4 459.9L1831.6 458.0L1831.8 458.1L1831.9 452.0L1832.1 494.5L1832.2 501.4L1832.4 477.1L1832.6 473.5L1832.7 482.0L1832.9 482.9L1833.0 457.8L1833.2 467.6L1833.3 464.4L1833.5 468.1L1833.7 473.2L1833.8 493.6L1834.0 493.8L1834.1 503.7L1834.3 494.4L1834.4 489.1L1834.6 486.5L1834.7 516.4L1834.9 485.3L1835.0 492.5L1835.2 480.3L1835.4 470.9L1835.5 461.9L1835.7 475.5L1835.8 472.1L1836.0 489.9L1836.1 482.6L1836.3 481.1L1836.4 483.1L1836.6 482.9L1836.7 439.4L1836.9 438.2L1837.0 429.1L1837.2 425.0L1837.3 425.0L1837.5 438.8L1837.6 450.0L1837.8 451.1L1837.9 461.9L1838.1 450.6L1838.2 452.1L1838.4 454.6L1838.5 465.8L1838.7 479.4L1838.8 497.2L1839.0 496.9L1839.1 510.1L1839.3 527.2L1839.4 508.1L1839.6 506.1L1839.7 542.1L1839.9 539.5L1840.0 521.7L1840.2 526.1L1840.3 519.6L1840.5 482.4L1840.6 457.0L1840.8 463.6L1840.9 452.1L1841.1 453.3L1841.2 465.0L1841.4 495.7L1841.5 493.3L1841.6 482.6L1841.8 461.2L1841.9 465.8L1842.1 464.2L1842.2 442.9L1842.4 460.4L1842.5 459.1L1842.7 463.7L1842.8 458.2L1842.9 488.8L1843.1 498.9L1843.2 550.3L1843.4 489.6L1843.5 493.7L1843.7 495.1L1843.8 479.5L1843.9 464.9L1844.1 481.1L1844.2 485.1L1844.4 470.8L1844.5 467.9L1844.7 484.0L1844.8 484.3L1844.9 487.6L1845.1 506.8L1845.2 527.4L1845.4 491.6L1845.5 494.7L1845.6 480.9L1845.8 465.3L1845.9 458.4L1846.1 484.1L1846.2 472.5L1846.3 469.2L1846.5 485.8L1846.6 490.8L1846.8 483.9L1846.9 518.4L1847.0 514.8L1847.2 511.5L1847.3 510.0L1847.5 492.4L1847.6 463.4L1847.7 471.7L1847.9 470.1L1848.0 480.5L1848.1 502.2L1848.3 528.9L1848.4 543.4L1848.6 539.0L1848.7 534.5L1848.8 504.6L1849.0 525.0L1849.1 501.3L1849.2 503.9L1849.4 486.8L1849.5 502.9L1849.6 465.8L1849.8 473.3L1849.9 474.1L1850.1 483.5L1850.2 484.5L1850.3 519.4L1850.5 530.7L1850.6 540.0L1850.7 488.7L1850.9 490.4L1851.0 483.6L1851.1 484.9L1851.3 457.6L1851.4 459.7L1851.5 424.3L1851.7 423.1L1851.8 424.3L1851.9 489.5L1852.1 528.5L1852.2 522.5L1852.3 503.9L1852.5 494.8L1852.6 483.9L1852.7 472.3L1852.8 481.5L1853.0 494.6L1853.1 493.2L1853.2 498.2L1853.4 519.8L1853.5 481.9L1853.6 484.8L1853.8 487.4L1853.9 490.9L1854.0 470.8L1854.2 495.2L1854.3 465.2L1854.4 470.1L1854.5 456.4L1854.7 467.0L1854.8 456.8L1854.9 478.2L1855.1 462.1L1855.2 469.3L1855.3 454.0L1855.4 472.4L1855.6 473.1L1855.7 476.4L1855.8 484.4L1856.0 508.9L1856.1 501.0L1856.2 508.0L1856.3 564.5L1856.5 569.9L1856.6 624.7L1856.7 624.8L1856.9 635.9L1857.0 615.5L1857.1 581.6L1857.2 536.6L1857.4 488.0L1857.5 468.3L1857.6 463.2L1857.7 458.3L1857.9 455.0L1858.0 480.3L1858.1 510.2L1858.2 482.6L1858.4 469.0L1858.5 472.3L1858.6 482.1L1858.7 474.8L1858.9 499.6L1859.0 530.3L1859.1 542.9L1859.2 522.1L1859.4 497.9L1859.5 493.2L1859.6 493.7L1859.7 488.2L1859.9 502.9L1860.0 495.0L1860.1 506.1L1860.2 504.7L1860.4 497.9L1860.5 483.8L1860.6 514.3L1860.7 516.9L1860.8 515.3L1861.0 504.5L1861.1 522.1L1861.2 523.7L1861.3 520.3L1861.5 521.7L1861.6 554.0L1861.7 544.4L1861.8 516.5L1861.9 495.2L1862.1 499.0L1862.2 501.0L1862.3 504.4L1862.4 514.8L1862.5 521.6L1862.7 502.3L1862.8 502.8L1862.9 505.4L1863.0 468.2L1863.1 472.3L1863.3 471.3L1863.4 471.5L1863.5 465.3L1863.6 512.7L1863.7 516.7L1863.9 534.3L1864.0 502.4L1864.1 510.5L1864.2 495.9L1864.3 499.9L1864.5 495.3L1864.6 495.6L1864.7 498.1L1864.8 510.1L1864.9 469.8L1865.0 462.9L1865.2 461.3L1865.3 456.4L1865.4 457.0L1865.5 490.7L1865.6 487.8L1865.8 516.9L1865.9 512.9L1866.0 544.2L1866.1 577.0L1866.2 602.4L1866.3 574.2L1866.5 535.7L1866.6 489.1L1866.7 487.7L1866.8 497.6L1866.9 511.5L1867.0 517.9L1867.1 531.2L1867.3 549.5L1867.4 536.5L1867.5 527.0L1867.6 526.8L1867.7 533.4L1867.8 507.1L1868.0 468.8L1868.1 471.4L1868.2 468.3L1868.3 469.7L1868.4 478.1L1868.5 546.6L1868.6 543.5L1868.8 555.2L1868.9 549.6L1869.0 473.0L1869.1 474.3L1869.2 466.7L1869.3 461.5L1869.4 465.1L1869.6 532.6L1869.7 474.6L1869.8 486.4L1869.9 485.0L1870.0 481.1L1870.1 459.7L1870.2 499.8L1870.3 501.0L1870.5 485.3L1870.6 489.6L1870.7 524.8L1870.8 526.8L1870.9 522.4L1871.0 575.5L1871.1 549.5L1871.2 561.5L1871.4 558.7L1871.5 550.8L1871.6 543.8L1871.7 581.3L1871.8 470.2L1871.9 457.5L1872.0 450.9L1872.1 446.6L1872.2 443.9L1872.3 485.1L1872.5 485.2L1872.6 487.9L1872.7 478.2L1872.8 469.2L1872.9 467.5L1873.0 462.9L1873.1 460.6L1873.2 474.9L1873.3 482.7L1873.4 496.6L1873.6 526.3L1873.7 538.5L1873.8 542.5L1873.9 538.7L1874.0 531.8L1874.1 538.1L1874.2 553.4L1874.3 536.2L1874.4 541.9L1874.5 537.5L1874.6 513.7L1874.8 504.9L1874.9 505.2L1875.0 512.9L1875.1 522.8L1875.2 545.5L1875.3 574.7L1875.4 567.8L1875.5 521.7L1875.6 501.2L1875.7 499.6L1875.8 480.6L1875.9 478.8L1876.0 491.4L1876.1 496.3L1876.3 501.3L1876.4 531.2L1876.5 508.9L1876.6 477.6L1876.7 479.7L1876.8 473.7L1876.9 461.4L1877.0 481.9L1877.1 507.5L1877.2 495.9L1877.3 503.6L1877.4 514.6L1877.5 493.5L1877.6 476.3L1877.7 486.6L1877.8 487.8L1877.9 482.9L1878.1 490.2L1878.2 522.3L1878.3 523.0L1878.4 525.7L1878.5 505.6L1878.6 512.6L1878.7 523.4L1878.8 531.0L1878.9 515.2L1879.0 578.3L1879.1 546.7L1879.2 519.1L1879.3 520.9L1879.4 518.5L1879.5 513.1L1879.6 533.2L1879.7 521.9L1879.8 520.7L1879.9 530.1L1880.0 489.9L1880.1 492.8L1880.2 505.6L1880.3 502.6L1880.4 506.4L1880.5 562.8L1880.6 524.0L1880.7 512.0L1880.8 471.6L1880.9 431.7L1881.1 432.9L1881.2 445.9L1881.3 469.0L1881.4 480.0L1881.5 508.0L1881.6 546.3L1881.7 557.7L1881.8 503.4L1881.9 505.8L1882.0 500.5L1882.1 501.7L1882.2 496.8L1882.3 533.1L1882.4 512.8L1882.5 509.9L1882.6 473.0L1882.7 479.3L1882.8 477.7L1882.9 491.8L1883.0 495.6L1883.1 547.1L1883.2 468.6L1883.3 472.0L1883.4 455.6L1883.5 453.1L1883.6 454.2L1883.7 508.0L1883.8 514.2L1883.9 528.3L1884.0 541.5L1884.1 545.3L1884.2 536.4L1884.3 536.8L1884.4 595.3L1884.5 589.7L1884.6 580.0L1884.7 594.7L1884.8 560.1L1884.9 548.8L1885.0 528.2L1885.1 534.9L1885.2 532.3L1885.3 539.4L1885.4 542.2L1885.5 564.0L1885.6 566.6L1885.7 553.9L1885.7 558.1L1885.8 559.2L1885.9 530.3L1886.0 532.2L1886.1 542.7L1886.2 498.4L1886.3 499.0L1886.4 520.9L1886.5 517.5L1886.6 519.7L1886.7 510.5L1886.8 511.5L1886.9 509.8L1887.0 512.1L1887.1 491.3L1887.2 534.1L1887.3 502.8L1887.4 499.0L1887.5 493.9L1887.6 506.0L1887.7 503.8L1887.8 528.4L1887.9 532.4L1888.0 527.3L1888.1 495.9L1888.2 498.0L1888.3 499.9L1888.4 502.6L1888.5 469.6L1888.6 496.8L1888.6 507.1L1888.7 509.4L1888.8 481.4L1888.9 530.5L1889.0 495.3L1889.1 475.6L1889.2 475.5L1889.3 492.0L1889.4 491.5L1889.5 495.8L1889.6 506.4L1889.7 497.3L1889.8 496.0L1889.9 490.4L1890.0 499.7L1890.1 489.9L1890.2 499.0L1890.3 508.8L1890.4 517.4L1890.4 512.6L1890.5 514.3L1890.6 511.7L1890.7 503.3L1890.8 489.7L1890.9 490.5L1891.0 495.5L1891.1 508.2L1891.2 542.0L1891.3 595.9L1891.4 621.4L1891.5 620.2L1891.6 601.7L1891.7 596.0L1891.8 527.9L1891.8 510.7L1891.9 499.3L1892.0 479.0L1892.1 478.8L1892.2 487.7L1892.3 501.9L1892.4 497.9L1892.5 512.7L1892.6 483.2L1892.7 468.4L1892.8 466.6L1892.9 458.3L1892.9 464.4L1893.0 475.2L1893.1 496.6L1893.2 484.2L1893.3 510.4L1893.4 499.4L1893.5 492.6L1893.6 487.3L1893.7 508.0L1893.8 497.4L1893.9 493.6L1894.0 515.1L1894.0 486.2L1894.1 484.4L1894.2 492.9L1894.3 501.4L1894.4 503.5L1894.5 553.0L1894.6 548.3L1894.7 500.8L1894.8 509.3L1894.9 501.2L1894.9 512.9L1895.0 512.8L1895.1 550.5L1895.2 554.5L1895.3 561.5L1895.4 530.7L1895.5 531.2L1895.6 546.7L1895.7 547.5L1895.8 558.0L1895.8 554.1L1895.9 552.2L1896.0 550.8L1896.1 552.6L1896.2 526.4L1896.3 517.5L1896.4 520.9L1896.5 517.5L1896.6 482.3L1896.6 491.2L1896.7 509.2L1896.8 507.5L1896.9 503.1L1897.0 547.9L1897.1 507.7L1897.2 495.5L1897.3 497.8L1897.4 507.8L1897.4 487.8L1897.5 501.1L1897.6 515.2L1897.7 504.9L1897.8 503.6L1897.9 531.3L1898.0 534.3L1898.1 527.8L1898.1 530.0L1898.2 519.9L1898.3 518.0L1898.4 527.7L1898.5 521.5L1898.6 481.9L1898.7 486.9L1898.8 468.6L1898.8 470.6L1898.9 474.0L1899.0 516.1L1899.1 481.6L1899.2 497.5L1899.3 497.4L1899.4 487.1L1899.5 482.2L1899.5 509.6L1899.6 518.0L1899.7 515.3L1899.8 518.9L1899.9 529.8L1900.0 542.4L1900.1 532.4L1900.1 535.8L1900.2 566.1L1900.3 566.3L1900.4 568.4L1900.5 606.1L1900.6 621.6L1900.7 629.6L1900.7 643.8L1900.8 627.4L1900.9 591.7L1901.0 572.4L1901.1 596.9L1901.2 617.0L1901.3 560.9L1901.3 546.0L1901.4 520.6L1901.5 495.9L1901.6 476.2L1901.7 485.0L1901.8 491.7L1901.8 503.0L1901.9 508.7L1902.0 509.9L1902.1 502.3L1902.2 498.8L1902.3 494.5L1902.4 515.2L1902.4 551.9L1902.5 580.5L1902.6 598.1L1902.7 546.0L1902.8 534.3L1902.9 527.5L1902.9 504.0L1903.0 494.7L1903.1 524.8L1903.2 519.3L1903.3 518.1L1903.4 529.6L1903.4 496.8L1903.5 497.9L1903.6 482.8L1903.7 486.1L1903.8 494.5L1903.9 534.1L1903.9 510.0L1904.0 552.2L1904.1 556.0L1904.2 529.4L1904.3 519.8L1904.4 523.5L1904.4 508.9L1904.5 480.5L1904.6 489.1L1904.7 481.7L1904.8 488.5L1904.9 495.8L1904.9 534.4L1905.0 507.6L1905.1 518.6L1905.2 520.3L1905.3 530.0L1905.3 525.7L1905.4 562.7L1905.5 562.5L1905.6 535.9L1905.7 528.8L1905.8 527.9L1905.8 534.8L1905.9 518.4L1906.0 542.9L1906.1 521.3L1906.2 509.5L1906.2 504.9L1906.3 530.1L1906.4 532.1L1906.5 565.0L1906.6 557.0L1906.7 498.5L1906.7 474.8L1906.8 458.4L1906.9 440.3L1907.0 451.2L1907.1 483.7L1907.1 502.3L1907.2 497.6L1907.3 513.4L1907.4 524.2L1907.5 558.5L1907.5 531.0L1907.6 540.8L1907.7 542.2L1907.8 508.5L1907.9 501.7L1907.9 526.8L1908.0 538.3L1908.1 539.4L1908.2 579.3L1908.3 587.2L1908.3 541.1L1908.4 517.1L1908.5 507.6L1908.6 512.3L1908.7 501.1L1908.7 502.8L1908.8 513.2L1908.9 509.2L1909.0 495.4L1909.1 527.7L1909.1 592.6L1909.2 652.3L1909.3 683.4L1909.4 682.2L1909.5 647.1L1909.5 570.5L1909.6 533.4L1909.7 526.2L1909.8 500.3L1909.9 485.5L1909.9 496.2L1910.0 503.2L1910.1 506.2L1910.2 508.8L1910.2 492.4L1910.3 470.0L1910.4 468.8L1910.5 468.2L1910.6 482.8L1910.6 508.8L1910.7 535.7L1910.8 542.4L1910.9 558.6L1910.9 551.7L1911.0 561.4L1911.1 612.6L1911.2 617.8L1911.3 598.8L1911.3 611.5L1911.4 538.2L1911.5 541.5L1911.6 542.9L1911.6 546.8L1911.7 515.0L1911.8 523.3L1911.9 519.1L1912.0 518.8L1912.0 505.3L1912.1 529.4L1912.2 521.5L1912.3 518.5L1912.3 510.7L1912.4 527.0L1912.5 508.3L1912.6 508.1L1912.7 494.5L1912.7 487.1L1912.8 484.6L1912.9 499.4L1913.0 532.1L1913.0 552.2L1913.1 548.7L1913.2 555.9L1913.3 546.5L1913.3 536.0L1913.4 530.7L1913.5 563.6L1913.6 567.4L1913.6 576.8L1913.7 569.8L1913.8 587.9L1913.9 514.9L1914.0 506.4L1914.0 486.4L1914.1 491.5L1914.2 496.7L1914.3 514.2L1914.3 516.1L1914.4 552.9L1914.5 539.4L1914.6 525.3L1914.6 555.6L1914.7 525.7L1914.8 504.0L1914.9 506.8L1914.9 513.8L1915.0 513.4L1915.1 511.3L1915.2 529.0L1915.2 524.8L1915.3 526.3L1915.4 518.2L1915.5 499.9L1915.5 483.8L1915.6 487.0L1915.7 486.0L1915.8 486.4L1915.8 518.9L1915.9 531.8L1916.0 539.2L1916.1 523.4L1916.1 484.2L1916.2 489.7L1916.3 498.1L1916.4 492.5L1916.4 485.3L1916.5 537.4L1916.6 540.6L1916.7 543.3L1916.7 519.6L1916.8 550.9L1916.9 550.3L1916.9 527.3L1917.0 533.4L1917.1 551.2L1917.2 543.6L1917.2 536.2L1917.3 528.8L1917.4 522.0L1917.5 530.1L1917.5 535.5L1917.6 517.7L1917.7 518.8L1917.8 507.1L1917.8 514.6L1917.9 511.3L1918.0 525.5L1918.1 540.8L1918.1 509.6L1918.2 508.1L1918.3 503.4L1918.3 496.0L1918.4 498.2L1918.5 542.1L1918.6 544.4L1918.6 537.5L1918.7 559.0L1918.8 557.5L1918.9 556.2L1918.9 548.5L1919.0 519.3L1919.1 510.5L1919.1 494.1L1919.2 492.2L1919.3 482.3L1919.4 492.0L1919.4 500.9L1919.5 491.3L1919.6 495.6L1919.7 503.0L1919.7 520.4L1919.8 506.8L1919.9 548.6L1919.9 531.9L1920.0 526.6L1920.1 533.5L1920.2 539.8L1920.2 532.9L1920.3 543.0L1920.4 567.0L1920.4 565.7L1920.5 555.2L1920.6 558.7L1920.7 525.6L1920.7 523.1L1920.8 504.1L1920.9 517.9L1920.9 522.0L1921.0 561.7L1921.1 531.4L1921.2 524.5L1921.2 518.9L1921.3 517.7L1921.4 498.5L1921.4 512.0L1921.5 540.2L1921.6 535.8L1921.7 529.4L1921.7 535.4L1921.8 523.5L1921.9 467.2L1921.9 470.8L1922.0 457.8L1922.1 463.6L1922.1 464.0L1922.2 510.3L1922.3 505.9L1922.4 551.4L1922.4 552.0L1922.5 561.9L1922.6 577.3L1922.6 582.2L1922.7 571.4L1922.8 560.5L1922.9 579.2L1922.9 551.0L1923.0 552.2L1923.1 559.8L1923.1 511.3L1923.2 498.2L1923.3 496.6L1923.3 484.9L1923.4 484.1L1923.5 519.5L1923.5 541.6L1923.6 565.7L1923.7 579.1L1923.8 579.1L1923.8 519.5L1923.9 512.0L1924.0 496.0L1924.0 500.7L1924.1 494.7L1924.2 524.3L1924.2 518.3L1924.3 537.7L1924.4 524.0L1924.5 531.2L1924.5 537.8L1924.6 542.3L1924.7 549.4L1924.7 593.2L1924.8 490.7L1924.9 479.9L1924.9 483.3L1925.0 480.6L1925.1 476.9L1925.1 544.0L1925.2 569.8L1925.3 573.8L1925.3 583.2L1925.4 604.6L1925.5 551.9L1925.6 531.9L1925.6 488.6L1925.7 482.8L1925.8 482.8L1925.8 493.7L1925.9 485.8L1926.0 517.1L1926.0 508.5L1926.1 507.5L1926.2 513.8L1926.2 502.5L1926.3 505.3L1926.4 500.5L1926.4 495.3L1926.5 493.3L1926.6 516.1L1926.6 516.8L1926.7 548.9L1926.8 536.1L1926.8 479.9L1926.9 475.3L1927.0 472.1L1927.0 463.9L1927.1 463.5L1927.2 506.6L1927.2 501.3L1927.3 513.1L1927.4 533.3L1927.5 543.4L1927.5 540.6L1927.6 560.9L1927.7 498.1L1927.7 487.5L1927.8 495.0L1927.9 493.4L1927.9 492.3L1928.0 531.0L1928.1 541.5L1928.1 538.3L1928.2 541.0L1928.3 566.0L1928.3 579.8L1928.4 590.8L1928.5 555.7L1928.5 554.8L1928.6 556.9L1928.7 551.2L1928.7 546.6L1928.8 568.1L1928.9 573.2L1928.9 564.5L1929.0 544.1L1929.1 517.3L1929.1 506.4L1929.2 502.4L1929.3 498.5L1929.3 510.9L1929.4 534.2L1929.5 513.8L1929.5 510.5L1929.6 509.6L1929.6 507.8L1929.7 503.9L1929.8 531.3L1929.8 542.9L1929.9 560.2L1930.0 546.8L1930.0 552.2L1930.1 538.1L1930.2 535.6L1930.2 539.4L1930.3 541.9L1930.4 538.9L1930.4 550.6L1930.5 526.6L1930.6 523.5L1930.6 504.5L1930.7 492.6L1930.8 481.8L1930.8 482.3L1930.9 482.1L1931.0 488.1L1931.0 482.1L1931.1 476.6L1931.2 472.1L1931.2 465.2L1931.3 475.5L1931.3 497.1L1931.4 523.1L1931.5 522.2L1931.5 532.9L1931.6 525.6L1931.7 512.2L1931.7 520.2L1931.8 546.5L1931.9 553.1L1931.9 563.0L1932.0 592.6L1932.1 550.2L1932.1 507.7L1932.2 497.7L1932.3 476.6L1932.3 473.5L1932.4 482.0L1932.4 485.3L1932.5 494.4L1932.6 526.7L1932.6 524.9L1932.7 503.1L1932.8 533.5L1932.8 530.7L1932.9 518.5L1933.0 522.8L1933.0 545.4L1933.1 550.0L1933.2 557.6L1933.2 559.7L1933.3 543.5L1933.3 536.0L1933.4 528.5L1933.5 529.4L1933.5 524.8L1933.6 541.1L1933.7 568.6L1933.7 576.4L1933.8 543.1L1933.9 558.2L1933.9 552.6L1934.0 531.7L1934.0 529.9L1934.1 542.7L1934.2 511.3L1934.2 512.4L1934.3 515.3L1934.4 522.3L1934.4 513.2L1934.5 546.2L1934.6 532.0L1934.6 532.9L1934.7 505.2L1934.7 520.8L1934.8 525.6L1934.9 506.7L1934.9 508.9L1935.0 518.4L1935.1 512.2L1935.1 512.7L1935.2 531.1L1935.2 535.3L1935.3 551.7L1935.4 545.0L1935.4 529.3L1935.5 529.0L1935.6 522.5L1935.6 528.4L1935.7 523.7L1935.7 536.8L1935.8 528.2L1935.9 495.3L1935.9 484.3L1936.0 490.1L1936.1 487.3L1936.1 486.0L1936.2 524.6L1936.2 516.2L1936.3 519.4L1936.4 519.7L1936.4 548.2L1936.5 539.5L1936.6 559.0L1936.6 490.9L1936.7 490.4L1936.7 491.2L1936.8 492.5L1936.9 495.8L1936.9 552.7L1937.0 541.0L1937.0 530.7L1937.1 518.9L1937.2 517.3L1937.2 508.0L1937.3 508.9L1937.4 481.9L1937.4 483.2L1937.5 480.6L1937.5 495.8L1937.6 491.3L1937.7 516.8L1937.7 522.6L1937.8 541.0L1937.8 539.8L1937.9 565.4L1938.0 570.3L1938.0 567.5L1938.1 553.8L1938.2 519.8L1938.2 506.2L1938.3 510.7L1938.3 518.4L1938.4 527.6L1938.5 550.2L1938.5 584.0L1938.6 582.9L1938.6 560.1L1938.7 538.5L1938.8 526.0L1938.8 521.3L1938.9 527.7L1938.9 496.3L1939.0 502.2L1939.1 515.5L1939.1 513.6L1939.2 505.5L1939.2 558.2L1939.3 559.9L1939.4 568.8L1939.4 555.4L1939.5 535.0L1939.5 504.2L1939.6 500.2L1939.7 496.6L1939.7 492.0L1939.8 509.7L1939.8 541.1L1939.9 553.0L1940.0 562.7L1940.0 624.3L1940.1 558.9L1940.1 552.3L1940.2 556.6L1940.3 548.1L1940.3 544.6L1940.4 605.5L1940.4 631.9L1940.5 568.3L1940.6 566.4L1940.6 531.1L1940.7 529.2L1940.7 524.7L1940.8 510.7L1940.9 507.7L1940.9 506.6L1941.0 490.3L1941.0 487.0L1941.1 500.6L1941.2 484.3L1941.2 500.9L1941.3 503.7L1941.3 493.5L1941.4 503.3L1941.5 532.5L1941.5 526.7L1941.6 531.0L1941.6 556.2L1941.7 544.5L1941.8 551.9L1941.8 563.0L1941.9 590.4L1941.9 587.6L1942.0 528.1L1942.1 523.5L1942.1 510.2L1942.2 514.9L1942.2 513.2L1942.3 538.5L1942.3 537.8L1942.4 557.4L1942.5 552.5L1942.5 554.8L1942.6 570.8L1942.6 529.0L1942.7 527.5L1942.8 518.4L1942.8 525.0L1942.9 531.1L1942.9 566.9L1943.0 507.2L1943.1 485.0L1943.1 451.4L1943.2 459.1L1943.2 487.0L1943.3 523.8L1943.3 541.3L1943.4 530.2L1943.5 521.2L1943.5 522.5L1943.6 528.6L1943.6 512.5L1943.7 514.8L1943.7 510.0L1943.8 496.6L1943.9 489.0L1943.9 492.3L1944.0 504.9L1944.0 475.9L1944.1 487.8L1944.2 499.4L1944.2 506.3L1944.3 508.4L1944.3 626.3L1944.4 545.3L1944.4 544.0L1944.5 533.3L1944.6 509.0L1944.6 511.1L1944.7 530.9L1944.7 518.6L1944.8 503.9L1944.8 524.8L1944.9 513.4L1945.0 516.3L1945.0 517.6L1945.1 540.6L1945.1 506.9L1945.2 497.5L1945.2 501.0L1945.3 507.2L1945.4 513.3L1945.4 518.9L1945.5 543.5L1945.5 500.3L1945.6 504.9L1945.7 471.5L1945.7 483.8L1945.8 484.4L1945.8 520.6L1945.9 504.3L1945.9 565.2L1946.0 554.1L1946.0 549.1L1946.1 520.0L1946.2 527.2L1946.2 513.6L1946.3 518.8L1946.3 507.8L1946.4 530.3L1946.4 506.1L1946.5 524.1L1946.6 518.3L1946.6 534.8L1946.7 531.5L1946.7 578.1L1946.8 579.0L1946.8 594.2L1946.9 593.8L1947.0 560.6L1947.0 541.4L1947.1 530.2L1947.1 521.9L1947.2 518.9L1947.2 537.2L1947.3 535.6L1947.4 540.2L1947.4 577.4L1947.5 604.1L1947.5 641.5L1947.6 679.3L1947.6 642.3L1947.7 568.2L1947.7 522.3L1947.8 527.3L1947.9 501.6L1947.9 514.1L1948.0 525.9L1948.0 522.7L1948.1 507.0L1948.1 539.8L1948.2 545.9L1948.2 540.8L1948.3 491.4L1948.4 500.6L1948.4 496.3L1948.5 485.6L1948.5 490.9L1948.6 537.6L1948.6 540.3L1948.7 547.8L1948.7 574.6L1948.8 568.3L1948.9 561.1L1948.9 531.2L1949.0 533.9L1949.0 522.9L1949.1 516.9L1949.1 503.0L1949.2 525.9L1949.2 508.2L1949.3 512.8L1949.4 521.9L1949.4 541.2L1949.5 532.7L1949.5 517.3L1949.6 523.5L1949.6 523.5L1949.7 501.0L1949.7 508.6L1949.8 537.9L1949.9 539.6L1949.9 535.1L1950.0 605.8L1950.0 604.4L1950.1 589.2L1950.1 586.8L1950.2 596.3L1950.2 580.9L1950.3 513.2L1950.3 507.4L1950.4 504.2L1950.5 502.9L1950.5 495.4L1950.6 516.3L1950.6 522.3L1950.7 519.2L1950.7 519.3L1950.8 511.6L1950.8 534.3L1950.9 538.4L1950.9 534.8L1951.0 508.3L1951.1 533.2L1951.1 510.3L1951.2 500.6L1951.2 508.2L1951.3 531.0L1951.3 505.5L1951.4 517.6L1951.4 534.8L1951.5 486.8L1951.5 485.2L1951.6 499.8L1951.7 508.6L1951.7 510.3L1951.8 583.9L1951.8 584.5L1951.9 555.7L1951.9 555.7L1952.0 542.6L1952.0 548.3L1952.1 530.8L1952.1 546.2L1952.2 523.7L1952.2 527.4L1952.3 519.9L1952.4 542.0L1952.4 552.0L1952.5 586.8L1952.5 585.9L1952.6 606.5L1952.6 596.6L1952.7 562.7L1952.7 567.1L1952.8 511.3L1952.8 486.5L1952.9 487.7L1952.9 485.7L1953.0 485.0L1953.1 513.0L1953.1 558.5L1953.2 556.0L1953.2 539.6L1953.3 529.3L1953.3 535.4L1953.4 535.9L1953.4 539.5L1953.5 549.9L1953.5 565.8L1953.6 556.9L1953.6 503.3L1953.7 504.6L1953.7 520.3L1953.8 513.6L1953.8 521.0L1953.9 507.2L1954.0 483.0L1954.0 469.4L1954.1 471.8L1954.1 468.2L1954.2 490.4L1954.2 513.2L1954.3 531.7L1954.3 525.5L1954.4 534.3L1954.4 547.0L1954.5 534.4L1954.5 549.9L1954.6 542.3L1954.6 538.5L1954.7 507.6L1954.7 520.0L1954.8 511.1L1954.9 520.8L1954.9 527.5L1955.0 573.6L1955.0 555.9L1955.1 547.8L1955.1 522.5L1955.2 534.5L1955.2 534.1L1955.3 547.6L1955.3 553.0L1955.4 571.0L1955.4 542.3L1955.5 522.8L1955.5 520.4L1955.6 523.4L1955.6 538.9L1955.7 564.4L1955.7 604.9L1955.8 546.9L1955.8 565.3L1955.9 558.3L1956.0 545.9L1956.0 540.2L1956.1 572.7L1956.1 551.9L1956.2 535.4L1956.2 535.4L1956.3 538.6L1956.3 550.8L1956.4 559.1L1956.4 567.1L1956.5 562.5L1956.5 544.7L1956.6 534.9L1956.6 539.2L1956.7 522.1L1956.7 548.2L1956.8 591.6L1956.8 631.5L1956.9 641.4L1956.9 632.5L1957.0 568.9L1957.0 518.6L1957.1 487.9L1957.1 486.5L1957.2 482.4L1957.2 472.6L1957.3 481.4L1957.3 496.8L1957.4 501.8L1957.4 519.7L1957.5 576.5L1957.6 574.5L1957.6 549.6L1957.7 529.9L1957.7 520.1L1957.8 521.7L1957.8 512.4L1957.9 523.9L1957.9 538.6L1958.0 551.3L1958.0 535.2L1958.1 544.1L1958.1 541.0L1958.2 545.5L1958.2 524.8L1958.3 532.5L1958.3 531.7L1958.4 530.5L1958.4 529.4L1958.5 535.7L1958.5 542.6L1958.6 534.0L1958.6 529.9L1958.7 534.0L1958.7 553.0L1958.8 539.2L1958.8 543.9L1958.9 570.1L1958.9 558.0L1959.0 535.2L1959.0 544.9L1959.1 565.3L1959.1 535.1L1959.2 496.0L1959.2 471.8L1959.3 454.1L1959.3 459.0L1959.4 513.7L1959.4 573.7L1959.5 549.8L1959.5 556.5L1959.6 559.2L1959.6 560.8L1959.7 557.0L1959.7 603.3L1959.8 587.3L1959.8 579.2L1959.9 569.2L1959.9 557.4L1960.0 571.4L1960.0 567.0L1960.1 581.7L1960.1 567.3L1960.2 589.1L1960.2 585.6L1960.3 600.8L1960.3 578.1L1960.4 600.5L1960.4 547.6L1960.5 523.6L1960.5 516.3L1960.6 498.8L1960.6 500.9L1960.7 517.7L1960.7 537.6L1960.8 519.7L1960.8 558.0L1960.9 550.4L1960.9 557.1L1961.0 523.0L1961.0 543.2L1961.1 541.8L1961.1 521.1L1961.2 505.4L1961.2 519.9L1961.3 519.3L1961.3 513.4L1961.4 525.6L1961.4 547.8L1961.5 559.1L1961.5 573.8L1961.6 559.1L1961.6 560.1L1961.7 534.8L1961.7 538.6L1961.8 505.8L1961.8 511.6L1961.9 521.0L1961.9 526.1L1962.0 521.4L1962.0 560.6L1962.1 567.9L1962.1 517.4L1962.2 522.7L1962.2 517.5L1962.3 486.5L1962.3 476.1L1962.4 496.5L1962.4 493.4L1962.5 495.7L1962.5 537.5L1962.6 546.2L1962.6 515.2L1962.7 518.4L1962.7 513.2L1962.8 497.6L1962.8 509.6L1962.9 541.2L1962.9 549.2L1963.0 547.6L1963.0 550.4L1963.1 552.3L1963.1 541.7L1963.2 539.6L1963.2 559.5L1963.3 604.9L1963.3 587.8L1963.4 583.1L1963.4 563.2L1963.4 536.9L1963.5 535.2L1963.5 534.1L1963.6 533.4L1963.6 517.8L1963.7 517.4L1963.7 501.9L1963.8 500.6L1963.8 504.3L1963.9 528.0L1963.9 545.6L1964.0 498.2L1964.0 493.9L1964.1 495.5L1964.1 491.7L1964.2 493.5L1964.2 565.1L1964.3 602.1L1964.3 570.1L1964.4 576.6L1964.4 576.7L1964.5 574.4L1964.5 574.3L1964.6 577.5L1964.6 575.6L1964.7 525.5L1964.7 505.4L1964.8 494.3L1964.8 499.5L1964.8 499.6L1964.9 501.4L1964.9 522.1L1965.0 521.0L1965.0 502.9L1965.1 503.0L1965.1 524.0L1965.2 524.0L1965.2 531.2L1965.3 570.7L1965.3 538.1L1965.4 552.1L1965.4 548.7L1965.5 555.9L1965.5 534.1L1965.6 566.0L1965.6 557.3L1965.7 531.1L1965.7 526.5L1965.8 536.2L1965.8 532.4L1965.9 530.4L1965.9 559.8L1965.9 562.6L1966.0 575.8L1966.0 585.7L1966.1 580.1L1966.1 556.1L1966.2 545.0L1966.2 546.6L1966.3 546.8L1966.3 550.1L1966.4 549.3L1966.4 520.6L1966.5 518.0L1966.5 487.5L1966.6 484.6L1966.6 488.5L1966.7 517.3L1966.7 520.5L1966.8 559.6L1966.8 558.6L1966.8 545.7L1966.9 539.5L1966.9 532.9L1967.0 537.4L1967.0 565.0L1967.1 619.4L1967.1 634.0L1967.2 635.2L1967.2 610.5L1967.3 578.7L1967.3 550.9L1967.4 548.4L1967.4 556.5L1967.5 517.2L1967.5 513.9L1967.6 501.0L1967.6 500.9L1967.6 501.6L1967.7 539.4L1967.7 549.0L1967.8 551.3L1967.8 540.5L1967.9 534.2L1967.9 548.7L1968.0 510.9L1968.0 528.7L1968.1 541.1L1968.1 557.1L1968.2 547.9L1968.2 619.3L1968.3 550.6L1968.3 544.4L1968.3 540.0L1968.4 535.1L1968.4 534.6L1968.5 557.3L1968.5 546.8L1968.6 534.5L1968.6 534.9L1968.7 544.2L1968.7 554.9L1968.8 565.4L1968.8 567.8L1968.9 556.7L1968.9 533.5" stroke="#000" stroke-width="4.8" fill="none" stroke-linejoin="round" stroke-linecap="butt" marker-start="url(#dot)" marker-mid="url(#dot)" marker-end="url(#dot)"/>
<polyline points="1225.4,357.5 1519.5,364.0 1972.7,537.4" stroke="#808080" stroke-width="3.3" fill="none" stroke-linejoin="round"/>
</g>
<path d="M1124.74 789.8V796.6M1156.73 789.8V796.6M1181.54 789.8V796.6M1201.81 789.8V796.6M1218.95 789.8V796.6M1233.79 789.8V796.6M1246.89 789.8V796.6M1335.66 789.8V796.6M1380.74 789.8V796.6M1412.73 789.8V796.6M1437.54 789.8V796.6M1457.81 789.8V796.6M1474.95 789.8V796.6M1489.79 789.8V796.6M1502.89 789.8V796.6M1591.66 789.8V796.6M1636.74 789.8V796.6M1668.73 789.8V796.6M1693.54 789.8V796.6M1713.81 789.8V796.6M1730.95 789.8V796.6M1745.79 789.8V796.6M1758.89 789.8V796.6M1847.66 789.8V796.6M1892.74 789.8V796.6M1924.73 789.8V796.6M1949.54 789.8V796.6M1969.81 789.8V796.6" stroke="#000" stroke-width="2.4" fill="none"/>
<path d="M1258.60 789.8V797.6M1258.60 195.2V187.3M1514.60 789.8V797.6M1514.60 195.2V187.3M1770.60 789.8V797.6M1770.60 195.2V187.3" stroke="#000" stroke-width="2.4" fill="none"/>
<rect x="1103.90" y="195.20" width="865.80" height="594.60" fill="none" stroke="#000" stroke-width="2.4"/>
<rect x="967.5" y="162.4" width="62.1" height="64.6" rx="11.5" ry="11.5" fill="#fff" stroke="#000" stroke-width="2.7"/>
<rect x="1939.6" y="162.4" width="60.1" height="64.6" rx="11.5" ry="11.5" fill="#fff" stroke="#000" stroke-width="2.7"/>
<rect x="475.4" y="0.9" width="1071.7" height="57.6" rx="6" ry="6" fill="#fff" stroke="#ccc" stroke-width="2.8"/>
<path d="M498.2 26.8H555.1" stroke="#000" stroke-width="3.1" stroke-linecap="round"/>
<ellipse cx="526.2" cy="26.8" rx="3.7" ry="5.3" fill="#2c0f12" stroke="#000" stroke-width="1.2"/>
<rect x="878.9" y="15.5" width="68.2" height="22.6" fill="#c8c8c8" stroke="#ababab" stroke-width="3.4"/>
<path d="M881 26.5H945.3" stroke="#000" stroke-width="3.2" stroke-linecap="round"/>
<rect x="1278.3" y="13.9" width="68.7" height="23.9" fill="#ffd5d5"/>
<path clip-path="url(#lgp)" d="M1203.5 42.8L1237.4 8.9M1258.1 42.8L1292.0 8.9M1312.7 42.8L1346.6 8.9M1367.4 42.8L1401.3 8.9" stroke="#f00" stroke-width="2.2" fill="none"/>
<text><tspan x="585.87" y="38.80" font-size="34.05" textLength="136.63" lengthAdjust="spacingAndGlyphs" stroke-width="0.41">Estimated</tspan> <tspan x="734.98" y="38.80" font-size="34.05" textLength="61.38" lengthAdjust="spacingAndGlyphs" stroke-width="0.41">PSD</tspan></text>
<text><tspan x="975.45" y="38.80" font-size="34.05" textLength="82.05" lengthAdjust="spacingAndGlyphs" stroke-width="0.41">Fitted</tspan> <tspan x="1067.92" y="38.80" font-size="34.05" textLength="126.50" lengthAdjust="spacingAndGlyphs" stroke-width="0.41">spectrum</tspan></text>
<text><tspan x="1374.17" y="38.80" font-size="34.05" textLength="148.93" lengthAdjust="spacingAndGlyphs" stroke-width="0.41">Bandwidth</tspan></text>
<text><tspan x="314.14" y="120.20" font-size="54.20" textLength="144.06" lengthAdjust="spacingAndGlyphs" stroke-width="0.65">Period</tspan> <tspan x="480.40" y="120.20" font-size="54.20" textLength="181.88" lengthAdjust="spacingAndGlyphs" stroke-width="0.65">(quarter</tspan> <tspan x="680.64" y="120.20" font-size="54.20" textLength="134.75" lengthAdjust="spacingAndGlyphs" stroke-width="0.65">notes)</tspan></text>
<text><tspan x="1285.64" y="120.20" font-size="54.20" textLength="144.06" lengthAdjust="spacingAndGlyphs" stroke-width="0.65">Period</tspan> <tspan x="1451.90" y="120.20" font-size="54.20" textLength="181.88" lengthAdjust="spacingAndGlyphs" stroke-width="0.65">(quarter</tspan> <tspan x="1652.14" y="120.20" font-size="54.20" textLength="134.75" lengthAdjust="spacingAndGlyphs" stroke-width="0.65">notes)</tspan></text>
<text><tspan x="281.23" y="913.20" font-size="54.20" textLength="209.17" lengthAdjust="spacingAndGlyphs" stroke-width="0.65">Frequency</tspan> <tspan x="509.72" y="913.20" font-size="54.20" textLength="212.55" lengthAdjust="spacingAndGlyphs" stroke-width="0.65">(1/quarter</tspan> <tspan x="739.20" y="913.20" font-size="54.20" textLength="105.25" lengthAdjust="spacingAndGlyphs" stroke-width="0.65">note)</tspan></text>
<text><tspan x="1264.23" y="915.80" font-size="54.20" textLength="209.17" lengthAdjust="spacingAndGlyphs" stroke-width="0.65">Frequency</tspan> <tspan x="1492.72" y="915.80" font-size="54.20" textLength="212.55" lengthAdjust="spacingAndGlyphs" stroke-width="0.65">(1/quarter</tspan> <tspan x="1722.20" y="915.80" font-size="54.20" textLength="105.25" lengthAdjust="spacingAndGlyphs" stroke-width="0.65">note)</tspan></text>
<text><tspan x="126.52" y="171.60" font-size="41.69" textLength="85.87" lengthAdjust="spacingAndGlyphs" stroke-width="0.50">100.0</tspan></text>
<text><tspan x="434.63" y="171.60" font-size="41.69" textLength="66.56" lengthAdjust="spacingAndGlyphs" stroke-width="0.50">10.0</tspan></text>
<text><tspan x="743.01" y="171.60" font-size="41.69" textLength="47.78" lengthAdjust="spacingAndGlyphs" stroke-width="0.50">1.0</tspan></text>
<text><tspan x="1215.57" y="171.60" font-size="41.69" textLength="85.87" lengthAdjust="spacingAndGlyphs" stroke-width="0.50">100.0</tspan></text>
<text><tspan x="1480.37" y="171.60" font-size="41.69" textLength="67.84" lengthAdjust="spacingAndGlyphs" stroke-width="0.50">10.0</tspan></text>
<text><tspan x="1746.41" y="171.60" font-size="41.69" textLength="47.89" lengthAdjust="spacingAndGlyphs" stroke-width="0.50">1.0</tspan></text>
<text><tspan x="132.74" y="834.60" font-size="41.69" textLength="37.28" lengthAdjust="spacingAndGlyphs" stroke-width="0.50">10</tspan><tspan x="170.39" y="822.00" font-size="29.91" textLength="21.17" lengthAdjust="spacingAndGlyphs" stroke-width="0.36">−</tspan><tspan x="192.40" y="819.70" font-size="29.91" textLength="13.63" lengthAdjust="spacingAndGlyphs" stroke-width="0.36">2</tspan></text>
<text><tspan x="430.74" y="834.60" font-size="41.69" textLength="37.28" lengthAdjust="spacingAndGlyphs" stroke-width="0.50">10</tspan><tspan x="468.39" y="822.00" font-size="29.91" textLength="21.18" lengthAdjust="spacingAndGlyphs" stroke-width="0.36">−</tspan><tspan x="489.06" y="819.70" font-size="29.91" textLength="14.00" lengthAdjust="spacingAndGlyphs" stroke-width="0.36">1</tspan></text>
<text><tspan x="740.72" y="834.60" font-size="41.69" textLength="37.50" lengthAdjust="spacingAndGlyphs" stroke-width="0.50">10</tspan><tspan x="778.33" y="819.70" font-size="29.91" textLength="13.14" lengthAdjust="spacingAndGlyphs" stroke-width="0.36">0</tspan></text>
<text><tspan x="1221.89" y="834.60" font-size="41.69" textLength="37.28" lengthAdjust="spacingAndGlyphs" stroke-width="0.50">10</tspan><tspan x="1259.54" y="822.00" font-size="29.91" textLength="21.17" lengthAdjust="spacingAndGlyphs" stroke-width="0.36">−</tspan><tspan x="1281.55" y="819.70" font-size="29.91" textLength="13.63" lengthAdjust="spacingAndGlyphs" stroke-width="0.36">2</tspan></text>
<text><tspan x="1477.59" y="834.60" font-size="41.69" textLength="37.28" lengthAdjust="spacingAndGlyphs" stroke-width="0.50">10</tspan><tspan x="1515.24" y="822.00" font-size="29.91" textLength="21.17" lengthAdjust="spacingAndGlyphs" stroke-width="0.36">−</tspan><tspan x="1535.91" y="819.70" font-size="29.91" textLength="14.00" lengthAdjust="spacingAndGlyphs" stroke-width="0.36">1</tspan></text>
<text><tspan x="1744.87" y="834.60" font-size="41.69" textLength="37.50" lengthAdjust="spacingAndGlyphs" stroke-width="0.50">10</tspan><tspan x="1782.48" y="819.70" font-size="29.91" textLength="13.14" lengthAdjust="spacingAndGlyphs" stroke-width="0.36">0</tspan></text>
<text><tspan x="65.20" y="730.27" font-size="41.69" textLength="37.16" lengthAdjust="spacingAndGlyphs" stroke-width="0.50">10</tspan><tspan x="102.83" y="715.92" font-size="29.91" textLength="12.00" lengthAdjust="spacingAndGlyphs" stroke-width="0.36">1</tspan></text>
<text><tspan x="1036.60" y="707.03" font-size="41.69" textLength="37.16" lengthAdjust="spacingAndGlyphs" stroke-width="0.50">10</tspan><tspan x="1074.22" y="692.68" font-size="29.91" textLength="12.00" lengthAdjust="spacingAndGlyphs" stroke-width="0.36">1</tspan></text>
<text><tspan x="65.20" y="614.29" font-size="41.69" textLength="37.16" lengthAdjust="spacingAndGlyphs" stroke-width="0.50">10</tspan><tspan x="102.89" y="599.94" font-size="29.91" textLength="13.04" lengthAdjust="spacingAndGlyphs" stroke-width="0.36">2</tspan></text>
<text><tspan x="1036.60" y="589.91" font-size="41.69" textLength="37.16" lengthAdjust="spacingAndGlyphs" stroke-width="0.50">10</tspan><tspan x="1074.29" y="575.56" font-size="29.91" textLength="13.04" lengthAdjust="spacingAndGlyphs" stroke-width="0.36">2</tspan></text>
<text><tspan x="65.20" y="498.31" font-size="41.69" textLength="37.16" lengthAdjust="spacingAndGlyphs" stroke-width="0.50">10</tspan><tspan x="102.48" y="483.96" font-size="29.91" textLength="13.04" lengthAdjust="spacingAndGlyphs" stroke-width="0.36">3</tspan></text>
<text><tspan x="1036.60" y="472.79" font-size="41.69" textLength="37.16" lengthAdjust="spacingAndGlyphs" stroke-width="0.50">10</tspan><tspan x="1073.88" y="458.44" font-size="29.91" textLength="13.04" lengthAdjust="spacingAndGlyphs" stroke-width="0.36">3</tspan></text>
<text><tspan x="65.20" y="382.33" font-size="41.69" textLength="37.16" lengthAdjust="spacingAndGlyphs" stroke-width="0.50">10</tspan><tspan x="103.33" y="367.98" font-size="29.91" textLength="11.73" lengthAdjust="spacingAndGlyphs" stroke-width="0.36">4</tspan></text>
<text><tspan x="1036.60" y="355.67" font-size="41.69" textLength="37.16" lengthAdjust="spacingAndGlyphs" stroke-width="0.50">10</tspan><tspan x="1074.73" y="341.32" font-size="29.91" textLength="11.73" lengthAdjust="spacingAndGlyphs" stroke-width="0.36">4</tspan></text>
<text><tspan x="65.20" y="266.35" font-size="41.69" textLength="37.16" lengthAdjust="spacingAndGlyphs" stroke-width="0.50">10</tspan><tspan x="102.48" y="252.00" font-size="29.91" textLength="13.04" lengthAdjust="spacingAndGlyphs" stroke-width="0.36">5</tspan></text>
<text><tspan x="1036.60" y="238.55" font-size="41.69" textLength="37.16" lengthAdjust="spacingAndGlyphs" stroke-width="0.50">10</tspan><tspan x="1073.88" y="224.20" font-size="29.91" textLength="13.04" lengthAdjust="spacingAndGlyphs" stroke-width="0.36">5</tspan></text>
<text font-weight="bold"><tspan x="981.80" y="205.80" font-size="45.45" textLength="33.56" lengthAdjust="spacingAndGlyphs">A</tspan></text>
<text font-weight="bold"><tspan x="1953.22" y="205.80" font-size="45.45" textLength="33.08" lengthAdjust="spacingAndGlyphs">B</tspan></text>
<text transform="translate(40.4 587.3) rotate(-90)"><tspan x="-1.84" y="0.00" font-size="54.20" textLength="206.44" lengthAdjust="spacingAndGlyphs" stroke-width="0.65">Intensity</tspan></text>
</svg></body></html>
